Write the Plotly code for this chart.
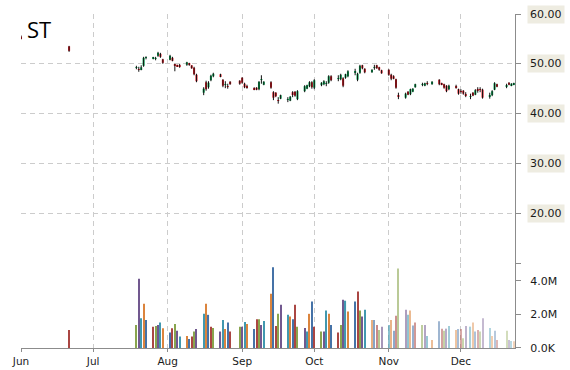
import plotly.graph_objects as go

# ---------------- data ----------------
title_text = "ST"

dates = [
    "2010-06-01", "2010-06-21",
    "2010-07-19", "2010-07-20", "2010-07-21", "2010-07-22", "2010-07-23",
    "2010-07-26", "2010-07-27", "2010-07-28", "2010-07-29", "2010-07-30",
    "2010-08-02", "2010-08-03", "2010-08-04", "2010-08-05", "2010-08-06",
    "2010-08-09", "2010-08-10", "2010-08-11", "2010-08-12", "2010-08-13",
    "2010-08-16", "2010-08-17", "2010-08-18", "2010-08-19", "2010-08-20",
    "2010-08-23", "2010-08-24", "2010-08-25", "2010-08-26", "2010-08-27",
    "2010-08-31", "2010-09-01", "2010-09-02", "2010-09-03",
    "2010-09-06", "2010-09-07", "2010-09-08", "2010-09-09", "2010-09-10",
    "2010-09-13", "2010-09-14", "2010-09-15", "2010-09-16", "2010-09-17",
    "2010-09-20", "2010-09-21", "2010-09-22", "2010-09-23", "2010-09-24",
    "2010-09-27", "2010-09-28", "2010-09-29", "2010-09-30", "2010-10-01",
    "2010-10-04", "2010-10-05", "2010-10-06", "2010-10-07", "2010-10-08",
    "2010-10-11", "2010-10-12", "2010-10-13", "2010-10-14", "2010-10-15",
    "2010-10-18", "2010-10-19", "2010-10-20", "2010-10-21", "2010-10-22",
    "2010-10-25", "2010-10-26", "2010-10-27", "2010-10-28", "2010-10-29",
    "2010-11-01", "2010-11-02", "2010-11-03", "2010-11-04", "2010-11-05",
    "2010-11-08", "2010-11-09", "2010-11-10", "2010-11-11", "2010-11-12",
    "2010-11-15", "2010-11-16", "2010-11-17", "2010-11-19",
    "2010-11-22", "2010-11-23", "2010-11-24", "2010-11-25", "2010-11-26",
    "2010-11-29", "2010-11-30", "2010-12-01", "2010-12-02", "2010-12-03",
    "2010-12-05", "2010-12-06", "2010-12-07", "2010-12-08", "2010-12-09", "2010-12-10",
    "2010-12-13", "2010-12-14", "2010-12-15", "2010-12-16",
    "2010-12-20", "2010-12-21", "2010-12-22", "2010-12-23",
]

opens = [
    55.5, 53.5,
    49.2, 48.9, 48.9, 49.6, 51.2,
    51.1, 51.0, 51.6, 52.0, 50.9,
    50.8, 51.2, 49.8, 49.8, 49.6,
    49.8, 50.0, 49.7, 49.2, 47.8,
    44.2, 46.3, 45.3, 46.7, 47.5,
    47.9, 46.8, 45.8, 45.5, 46.4,
    46.6, 47.2, 46.0, 45.4,
    45.0, 45.2, 44.9, 46.8, 45.8,
    46.3, 44.3, 44.2, 42.7, 43.0,
    42.8, 42.6, 44.3, 44.4, 42.9,
    44.5, 45.0, 45.5, 46.3, 45.2,
    45.7, 45.9, 46.0, 46.2, 47.5,
    47.0, 46.9, 47.1, 47.2, 47.5,
    48.3, 46.8, 48.2, 49.7, 49.0,
    48.3, 49.2, 49.7, 49.3, 48.7,
    48.8, 47.8, 47.5, 46.9, 43.6,
    43.2, 44.4, 43.9, 44.4, 45.3,
    45.8, 45.6, 46.1, 45.9,
    46.8, 46.0, 45.9, 45.6, 44.9,
    45.4, 44.9, 44.5, 44.6, 43.8,
    43.4, 44.2, 43.8, 44.8, 44.9, 44.8,
    43.5, 43.7, 44.8, 45.9,
    45.5, 46.2, 45.6, 45.8,
]

highs = [
    55.7, 53.6,
    49.6, 49.4, 49.7, 51.4, 51.5,
    51.4, 51.4, 52.4, 52.2, 51.0,
    51.8, 51.4, 50.0, 49.8, 50.0,
    50.4, 50.2, 49.7, 49.4, 48.0,
    45.3, 46.6, 46.5, 47.8, 48.2,
    48.0, 46.9, 46.5, 46.0, 46.5,
    46.7, 47.3, 46.2, 45.8,
    45.3, 45.3, 46.5, 47.7, 46.5,
    46.5, 44.5, 44.3, 43.3, 43.8,
    43.3, 43.5, 44.5, 44.5, 44.7,
    45.7, 45.8, 46.5, 46.5, 46.9,
    46.3, 46.7, 46.5, 47.7, 47.7,
    47.7, 48.0, 47.3, 48.0, 48.7,
    49.0, 48.2, 49.8, 49.8, 49.1,
    48.9, 49.8, 49.8, 49.4, 48.8,
    48.9, 48.0, 47.7, 47.0, 44.2,
    44.2, 44.5, 45.0, 45.1, 46.0,
    46.2, 46.2, 46.5, 46.5,
    46.9, 46.2, 46.0, 45.7, 45.8,
    45.8, 45.0, 44.9, 44.7, 44.3,
    44.0, 44.3, 44.9, 45.3, 45.3, 45.0,
    44.2, 44.7, 46.3, 46.0,
    46.0, 46.3, 46.1, 46.2,
]

lows = [
    54.9, 52.4,
    48.9, 48.4, 48.7, 49.4, 50.9,
    50.9, 50.7, 51.4, 51.2, 50.0,
    50.7, 50.5, 48.5, 49.4, 49.2,
    49.6, 49.6, 49.0, 47.7, 46.3,
    43.7, 44.6, 45.0, 46.5, 47.3,
    47.3, 45.3, 45.1, 45.0, 45.8,
    45.8, 46.0, 45.1, 45.0,
    44.7, 44.7, 44.7, 46.0, 45.7,
    45.0, 42.7, 43.3, 42.0, 42.9,
    42.3, 42.5, 43.3, 43.4, 42.7,
    44.3, 44.9, 45.3, 45.0, 44.9,
    45.5, 45.7, 45.5, 46.0, 46.5,
    46.5, 46.7, 45.3, 47.0, 47.3,
    47.7, 46.5, 48.0, 48.9, 48.1,
    48.2, 48.8, 49.0, 48.6, 48.0,
    47.6, 46.7, 46.9, 45.0, 42.9,
    43.0, 43.7, 43.7, 44.3, 45.2,
    45.5, 45.5, 45.7, 45.8,
    45.7, 45.7, 45.0, 44.3, 44.7,
    45.0, 43.8, 44.0, 43.8, 43.3,
    42.9, 43.5, 43.7, 44.2, 44.3, 43.0,
    43.0, 43.5, 44.7, 45.3,
    45.1, 45.7, 45.5, 45.7,
]

closes = [
    55.0, 52.6,
    49.3, 48.8, 49.3, 51.2, 51.3,
    51.2, 51.1, 52.2, 51.4, 50.2,
    51.6, 50.6, 49.7, 49.5, 49.5,
    50.3, 49.9, 49.1, 47.9, 46.5,
    45.0, 44.9, 46.2, 47.6, 48.0,
    47.5, 45.6, 45.9, 45.4, 45.9,
    46.0, 46.2, 45.3, 45.3,
    44.9, 44.8, 46.4, 46.9, 46.4,
    45.2, 43.2, 43.5, 42.6, 43.7,
    42.9, 43.4, 43.9, 43.6, 44.5,
    45.5, 45.7, 46.3, 45.3, 46.7,
    46.2, 46.5, 46.1, 47.5, 46.7,
    47.1, 47.8, 45.6, 47.9, 48.5,
    48.4, 48.0, 49.6, 49.1, 48.3,
    48.8, 49.3, 49.1, 48.8, 48.1,
    47.8, 47.0, 47.0, 45.2, 43.5,
    44.0, 43.8, 44.9, 45.0, 45.9,
    45.9, 46.1, 46.0, 46.4,
    45.9, 45.9, 45.2, 44.5, 45.6,
    45.3, 44.0, 44.4, 44.0, 43.7,
    43.5, 43.6, 44.7, 44.7, 44.8, 43.2,
    43.6, 44.5, 46.1, 45.4,
    45.6, 45.8, 46.0, 46.1,
]

volumes_millions = [
    0.0, 1.07,
    1.37, 4.12, 1.77, 2.63, 1.67,
    1.27, 1.31, 1.37, 1.51, 1.17,
    0.92, 1.17, 1.43, 1.03, 0.68,
    0.72, 0.54, 0.68, 0.98, 1.13,
    2.03, 2.63, 1.97, 1.27, 1.19,
    0.98, 1.67, 1.13, 1.51, 0.98,
    1.27, 1.27, 1.55, 1.43,
    1.13, 1.71, 1.71, 1.37, 1.61,
    3.22, 4.80, 1.31, 2.03, 2.57,
    1.97, 1.87, 1.71, 2.57, 1.27,
    1.19, 0.98, 2.03, 2.77, 1.27,
    0.98, 0.98, 2.23, 2.03, 1.37,
    0.92, 1.37, 2.87, 2.81, 2.17,
    2.77, 3.36, 2.23, 1.87, 2.27,
    1.67, 1.67, 1.37, 1.07, 1.27,
    1.37, 1.67, 1.03, 1.91, 4.72,
    2.27, 1.97, 2.23, 1.33, 1.51,
    1.37, 1.37, 0.72, 0.48,
    1.59, 1.15, 1.03, 1.15, 1.31,
    1.07, 1.13, 1.13, 0.58, 1.31,
    1.27, 1.51, 0.98, 1.07, 0.98, 1.77,
    1.19, 0.72, 1.03, 0.48,
    1.03, 0.48, 0.42, 0.40,
]

price_ticks = [10, 20, 30, 40, 50, 60]
price_tick_labels = ["", "20.00", "30.00", "40.00", "50.00", "60.00"]
volume_ticks = [0, 2000000, 4000000]
volume_tick_labels = ["0.0K", "2.0M", "4.0M"]
month_ticks = ["2010-06-01", "2010-07-01", "2010-08-01", "2010-09-01",
               "2010-10-01", "2010-11-01", "2010-12-01"]
month_labels = ["Jun", "Jul", "Aug", "Sep", "Oct", "Nov", "Dec"]

# ---------------- styling ----------------
FONT = "DejaVu Sans"
UP = "#00A651"
DOWN = "#E0141E"
GRID = "#cccccc"
AXIS = "#8c8c8c"
palette = ["#4572A7", "#AA4643", "#89A54E", "#71588F", "#4198AF", "#DB843D"]
DAY_MS = 86400000

volumes = [v * 1e6 for v in volumes_millions]

# wicks
wx, wy = [], []
for d, h, l in zip(dates, highs, lows):
    wx += [d, d, None]
    wy += [l, h, None]

body_base = [min(o, c) for o, c in zip(opens, closes)]
body_h = [abs(c - o) for o, c in zip(opens, closes)]
body_col = [UP if c >= o else DOWN for o, c in zip(opens, closes)]

n = len(dates)
vol_col = [palette[i % 6] for i in range(n)]
vol_op = []
for i in range(n):
    if i < 71:
        vol_op.append(1.0)
    else:
        vol_op.append(0.65 - 0.3 * (i - 71) / (n - 71))

fig = go.Figure()
fig.add_trace(go.Scatter(x=wx, y=wy, mode="lines", xaxis="x2", yaxis="y2",
                         line=dict(color="#111111", width=1), hoverinfo="skip"))
fig.add_trace(go.Bar(x=dates, y=body_h, base=body_base, xaxis="x2", yaxis="y2",
                     width=0.85 * DAY_MS, marker=dict(color=body_col, line=dict(width=0))))
fig.add_trace(go.Bar(x=dates, y=volumes, xaxis="x", yaxis="y",
                     width=0.45 * DAY_MS,
                     marker=dict(color=vol_col, opacity=vol_op, line=dict(width=0))))

xrange = ["2010-06-01", "2010-12-23 12:00"]
split = 0.2545
DASH = "5px,4px"

fig.update_layout(
    width=570, height=370,
    margin=dict(l=21, r=55, t=14, b=22, autoexpand=False),
    paper_bgcolor="white", plot_bgcolor="white",
    showlegend=False,
    font=dict(family=FONT, size=11, color="#1a1a1a"),
    xaxis=dict(domain=[0, 1], anchor="y", range=xrange, type="date",
               tickvals=month_ticks, ticktext=month_labels,
               showgrid=True, gridcolor=GRID, griddash=DASH, gridwidth=1,
               showline=True, linecolor=AXIS, linewidth=1,
               ticks="outside", ticklen=3, tickcolor=AXIS,
               tickfont=dict(family=FONT, size=10.5, color="#1a1a1a"),
               zeroline=False, automargin=False),
    xaxis2=dict(domain=[0, 1], anchor="y2", matches="x", type="date",
                tickvals=month_ticks, showticklabels=False,
                showgrid=True, gridcolor=GRID, griddash=DASH, gridwidth=1,
                showline=False, ticks="", zeroline=False, automargin=False),
    yaxis=dict(domain=[0, split], anchor="x", side="right",
               range=[0, 5.05e6], tickvals=volume_ticks, ticktext=volume_tick_labels,
               showgrid=False, zeroline=False,
               showline=True, linecolor=AXIS, linewidth=1,
               ticks="outside", ticklen=5, tickcolor=AXIS,
               ticklabelstandoff=7, automargin=False,
               tickfont=dict(family=FONT, size=11, color="#1a1a1a")),
    yaxis2=dict(domain=[split, 1], anchor="x2", side="right",
                range=[10, 60], tickvals=price_ticks, showticklabels=False,
                showgrid=True, gridcolor=GRID, griddash=DASH, gridwidth=1,
                zeroline=False, automargin=False,
                showline=True, linecolor=AXIS, linewidth=1,
                ticks="outside", ticklen=5, tickcolor=AXIS),
)

annotations = []
for v, lab in zip(price_ticks, price_tick_labels):
    if lab:
        annotations.append(dict(xref="paper", x=1, xanchor="left", xshift=12,
                                yref="y2", y=v, yanchor="middle",
                                text=lab, showarrow=False,
                                bgcolor="#EEECE1", borderpad=2,
                                font=dict(family=FONT, size=11, color="#1a1a1a")))
annotations.append(dict(xref="paper", x=0, xanchor="left", xshift=4,
                        yref="paper", y=1, yanchor="top", yshift=2,
                        text=title_text, showarrow=False,
                        font=dict(family="Open Sans", size=22, color="#000000")))
fig.update_layout(annotations=annotations)

fig.write_html("out.html",
               config={"displayModeBar": False},
               post_script="document.body.style.margin='0';document.body.style.overflow='hidden';")
